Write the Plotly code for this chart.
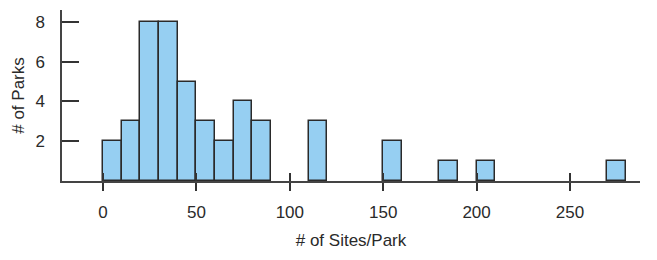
import plotly.graph_objects as go

bin_starts = [0, 10, 20, 30, 40, 50, 60, 70, 80, 110, 150, 180, 200, 270]
counts = [2, 3, 8, 8, 5, 3, 2, 4, 3, 3, 2, 1, 1, 1]
bin_width = 10
x_ticks = [0, 50, 100, 150, 200, 250]
y_ticks = [2, 4, 6, 8]

font_family = "Liberation Sans, Arial, sans-serif"

fig = go.Figure()
fig.add_trace(go.Bar(
    x=[s + bin_width / 2 for s in bin_starts],
    y=counts,
    width=bin_width,
    marker=dict(color="#96cff2", line=dict(color="#2a2a2a", width=1.5)),
    showlegend=False,
))
# invisible trace for inside x ticks
fig.add_trace(go.Scatter(x=[None], y=[None], xaxis="x2", showlegend=False))

xr = [-22, 287.5]
fig.update_layout(
    width=649, height=252,
    margin=dict(l=54, r=17, t=2, b=79),
    paper_bgcolor="white", plot_bgcolor="white",
    font=dict(family=font_family, size=17, color="#2a2a2a"),
    bargap=0,
    xaxis=dict(
        range=xr, tickvals=x_ticks, ticks="outside", ticklen=8, tickwidth=1.5,
        tickcolor="#333", showline=True, linecolor="#444", linewidth=1.5,
        showgrid=False, zeroline=False, automargin=False, ticklabelstandoff=7,
        title=dict(text="# of Sites/Park", font=dict(size=17), standoff=13),
    ),
    xaxis2=dict(
        range=xr, overlaying="x", tickvals=x_ticks, ticks="inside", ticklen=8,
        tickwidth=1.5, tickcolor="#333", showticklabels=False, showgrid=False,
        zeroline=False, side="bottom", automargin=False,
    ),
    yaxis=dict(
        range=[0, 8.6], tickvals=y_ticks, ticks="inside", ticklen=17, tickwidth=1.5,
        tickcolor="#333", showline=True, linecolor="#444", linewidth=1.5,
        showgrid=False, zeroline=False, automargin=False, ticklabelstandoff=12,
        title=dict(text="# of Parks", font=dict(size=17), standoff=6),
    ),
)
fig.write_html("out.html")
